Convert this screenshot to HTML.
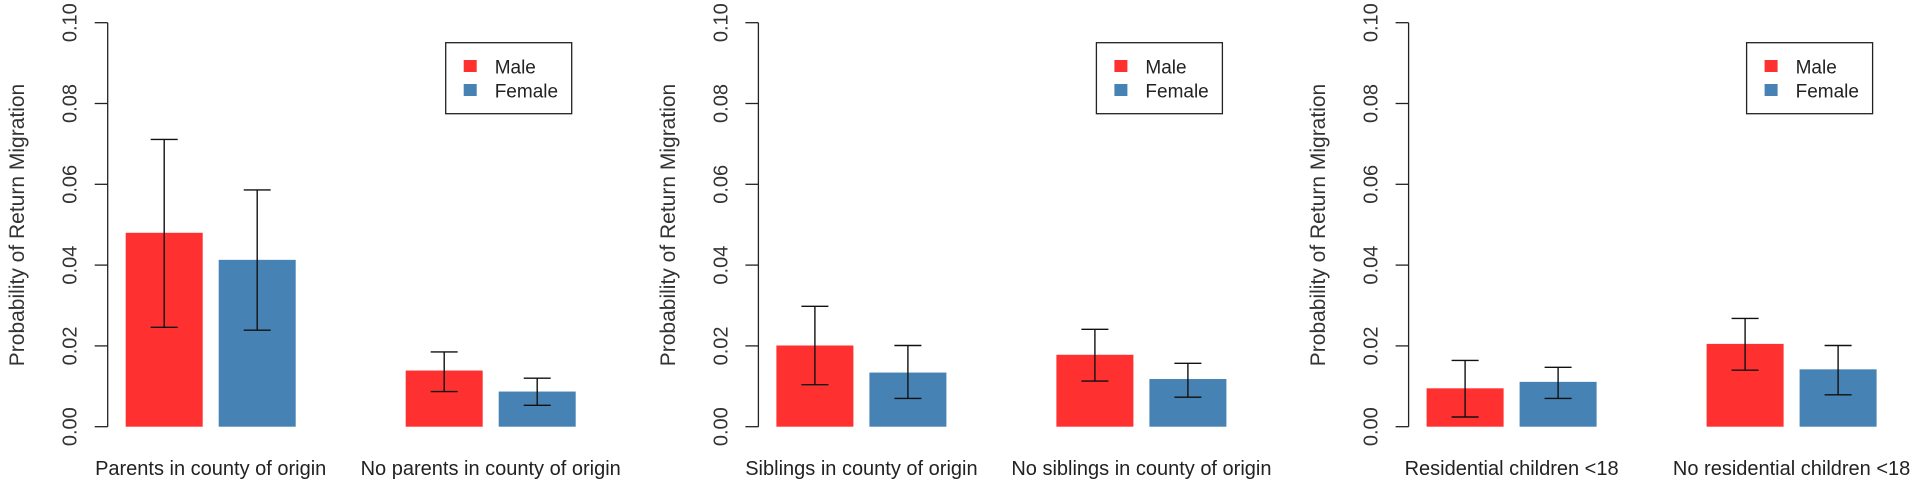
<!DOCTYPE html>
<html><head><meta charset="utf-8"><style>
html,body{margin:0;padding:0;background:#fff;}
svg{display:block;font-family:"Liberation Sans",Arial,sans-serif;}
</style></head><body>
<svg id="chart" width="1920" height="485" viewBox="0 0 1920 485" xmlns="http://www.w3.org/2000/svg"></svg>
<script>
const panelCategories = [
  ["Parents in county of origin", "No parents in county of origin"],
  ["Siblings in county of origin", "No siblings in county of origin"],
  ["Residential children <18", "No residential children <18"]
];
const maleValues = [[0.0480, 0.0139], [0.0201, 0.0178], [0.0095, 0.0205]];
const femaleValues = [[0.0413, 0.0087], [0.0134, 0.0118], [0.0111, 0.0142]];
const maleLower = [[0.0246, 0.0087], [0.0104, 0.0113], [0.0024, 0.0140]];
const maleUpper = [[0.0711, 0.0185], [0.0298, 0.0241], [0.0164, 0.0268]];
const femaleLower = [[0.0239, 0.0053], [0.0070, 0.0073], [0.0070, 0.0079]];
const femaleUpper = [[0.0586, 0.0120], [0.0201, 0.0157], [0.0147, 0.0201]];
const yTicks = [0, 0.02, 0.04, 0.06, 0.08, 0.10];
const yTickLabels = ["0.00", "0.02", "0.04", "0.06", "0.08", "0.10"];
const seriesNames = ["Male", "Female"];

const NS = "http://www.w3.org/2000/svg";
const svg = document.getElementById("chart");
const RED = "#FF3030", BLUE = "#4682B4";
const axisXs = [107.7, 758.4, 1408.6];
const y0 = 426.7, yTop = 22.7;
function yScale(v) { return y0 - (v / 0.10) * (y0 - yTop); }
const barW = 77;
function barX(ax, g, s) { return ax + 18 + g * 280 + s * 93; }
function mk(tag, attrs, parent) {
  const e = document.createElementNS(NS, tag);
  for (const k in attrs) e.setAttribute(k, attrs[k]);
  (parent || svg).appendChild(e);
  return e;
}

panelCategories.forEach((cats, p) => {
  const ax = axisXs[p];
  const g = mk("g", {});
  
  

  const axis = mk("line", {x1: ax, x2: ax, y1: yScale(0), y2: yScale(0.10), stroke: "#222", "stroke-width": 1.3}, g);
  
  
  yTicks.forEach((t, i) => {
    const ty = yScale(t);
    const tk = mk("line", {x1: ax - 13, x2: ax, y1: ty, y2: ty, stroke: "#222", "stroke-width": 1.3}, g);
    
    
    const lx = ax - 37;
    const tl = mk("text", {x: lx, y: ty, "font-size": 20, fill: "#333", "text-anchor": "middle", "dominant-baseline": "central", transform: "rotate(-90 " + lx + " " + ty + ")"}, g);
    tl.textContent = yTickLabels[i];
    
    
  });
  const tx = ax - 90, tyc = 225;
  const title = mk("text", {x: tx, y: tyc, "font-size": 21, fill: "#333", "text-anchor": "middle", "dominant-baseline": "central", transform: "rotate(-90 " + tx + " " + tyc + ")"}, g);
  title.textContent = "Probability of Return Migration";
  
  

  cats.forEach((cat, gi) => {
    const vals = [maleValues[p][gi], femaleValues[p][gi]];
    const lo = [maleLower[p][gi], femaleLower[p][gi]];
    const hi = [maleUpper[p][gi], femaleUpper[p][gi]];
    vals.forEach((v, s) => {
      const x = barX(ax, gi, s);
      const r = mk("rect", {x: x, y: yScale(v), width: barW, height: yScale(0) - yScale(v), fill: s === 0 ? RED : BLUE}, g);
      
      
      const cx = x + barW / 2;
      const eg = mk("g", {stroke: "#111", "stroke-width": 1.4}, g);
      
      
      mk("line", {x1: cx, x2: cx, y1: yScale(lo[s]), y2: yScale(hi[s])}, eg);
      mk("line", {x1: cx - 13.5, x2: cx + 13.5, y1: yScale(lo[s]), y2: yScale(lo[s])}, eg);
      mk("line", {x1: cx - 13.5, x2: cx + 13.5, y1: yScale(hi[s]), y2: yScale(hi[s])}, eg);
    });
    const gc = (barX(ax, gi, 0) + barX(ax, gi, 1) + barW) / 2;
    const lab = mk("text", {x: gc, y: 475, "font-size": 20, fill: "#222", "text-anchor": "middle"}, g);
    lab.textContent = cat;
    
    
  });

  const lg = mk("g", {}, g);
  
  
  mk("rect", {x: ax + 338, y: 42.7, width: 126, height: 71, fill: "#fff", stroke: "#222", "stroke-width": 1.3}, lg);
  seriesNames.forEach((n, s) => {
    const sw = mk("rect", {x: ax + 356, y: 60 + s * 24, width: 13, height: 12, fill: s === 0 ? RED : BLUE}, lg);
    
    
    const t = mk("text", {x: ax + 387, y: 68 + s * 24, "font-size": 19, fill: "#222", "dominant-baseline": "central"}, lg);
    t.textContent = n;
    
    
  });
});
</script>
</body></html>
